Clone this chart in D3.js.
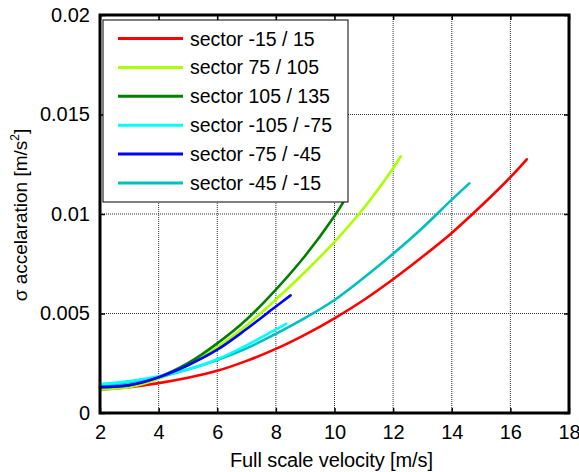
<!DOCTYPE html>
<html><head><meta charset="utf-8">
<script src="https://cdn.jsdelivr.net/npm/d3@7"></script>
<style>
html,body{margin:0;padding:0;background:#fff;}
svg{display:block;font-family:"Liberation Sans",Arial,sans-serif;}
</style></head>
<body><svg id="c" width="579" height="472"></svg>
<script>
const xTicks = [2,4,6,8,10,12,14,16,18];
const yTicks = [0,0.005,0.01,0.015,0.02];
const yTickLabels = ["0","0.005","0.01","0.015","0.02"];
const seriesNames = ["sector -15 / 15","sector 75 / 105","sector 105 / 135","sector -105 / -75","sector -75 / -45","sector -45 / -15"];
const seriesColors = ["#ff0000","#aaff00","#008000","#00ffff","#0000ff","#00bfbf"];
const sRed = [[2,0.00118],[3,0.0013],[4,0.0015],[5,0.00177],[6,0.00212],[7,0.00262],[8,0.00322],[9,0.00394],[10,0.00476],[11,0.00568],[12,0.00672],[13,0.00785],[14,0.00905],[15,0.0104],[16,0.01185],[16.56,0.01275]];
const sLime = [[2,0.0012],[3,0.0013],[4,0.00172],[5,0.0024],[6,0.0033],[7,0.0044],[8,0.0057],[9,0.0071],[10,0.0086],[11,0.0103],[12,0.0123],[12.26,0.0129]];
const sDkGreen = [[2,0.0013],[3,0.0014],[4,0.0018],[5,0.0025],[6,0.0035],[7,0.0047],[8,0.0062],[9,0.0079],[10,0.0099],[10.3,0.0106]];
const sCyan = [[2,0.00145],[3,0.0016],[4,0.00185],[5,0.0022],[6,0.0027],[7,0.0034],[8,0.0042],[8.35,0.00448]];
const sBlue = [[2,0.0013],[3,0.0014],[4,0.0018],[5,0.0024],[6,0.00318],[7,0.00422],[8,0.00535],[8.5,0.00591]];
const sTeal = [[2,0.0014],[3,0.00155],[4,0.0018],[5,0.00218],[6,0.00266],[7,0.00325],[8,0.00398],[9,0.00478],[10,0.00568],[11,0.0068],[12,0.008],[13,0.0093],[14,0.01072],[14.6,0.01154]];
const seriesData = [sRed,sLime,sDkGreen,sCyan,sBlue,sTeal];
const drawOrder = [0,1,2,5,3,4];

const svg = d3.select("#c");
const L=100,R=569,T=15,B=413;
const x = d3.scaleLinear().domain([2,18]).range([L,R]);
const y = d3.scaleLinear().domain([0,0.02]).range([B,T]);
const fs = 19;

// grid
const g = svg.append("g");
g.selectAll("line.gx").data(xTicks.slice(1,-1)).enter().append("line")
  .attr("x1",d=>x(d)).attr("x2",d=>x(d)).attr("y1",T).attr("y2",B)
  .attr("stroke","#333").attr("stroke-width",1).attr("stroke-dasharray","1,1");
g.selectAll("line.gy").data(yTicks.slice(1,-1)).enter().append("line")
  .attr("y1",d=>y(d)).attr("y2",d=>y(d)).attr("x1",L).attr("x2",R)
  .attr("stroke","#333").attr("stroke-width",1).attr("stroke-dasharray","1,1");

// lines
const line = d3.line().x(d=>x(d[0])).y(d=>y(d[1])).curve(d3.curveCatmullRom.alpha(0.5));
drawOrder.forEach(i=>{
  svg.append("path").attr("d",line(seriesData[i])).attr("fill","none")
    .attr("stroke",seriesColors[i]).attr("stroke-width",2.6).attr("stroke-linejoin","round").attr("stroke-linecap","round");
});

// axes
const ax = svg.append("g");
const xb = d3.axisBottom(x).tickValues(xTicks).tickSize(-5).tickPadding(12).tickFormat(d3.format("d"));
const xt = d3.axisTop(x).tickValues(xTicks).tickSize(-5).tickFormat("");
const yl = d3.axisLeft(y).tickValues(yTicks).tickSize(-5).tickPadding(10).tickFormat((d,i)=>yTickLabels[i]);
const yr = d3.axisRight(y).tickValues(yTicks).tickSize(-5).tickFormat("");
[[xb,`translate(0,${B})`],[xt,`translate(0,${T})`],[yl,`translate(${L},0)`],[yr,`translate(${R},0)`]].forEach(([a,t])=>{
  const gg = ax.append("g").attr("transform",t).call(a);
  gg.select(".domain").remove();
  gg.selectAll(".tick line").attr("stroke","#000").attr("stroke-width",1.5);
  gg.selectAll("text").attr("font-size",20).attr("fill","#000").attr("font-family","Liberation Sans, Arial, sans-serif");
});
ax.append("rect").attr("x",L).attr("y",T).attr("width",R-L).attr("height",B-T)
  .attr("fill","none").attr("stroke","#000").attr("stroke-width",3);

// axis labels
svg.append("text").attr("x",331.5).attr("y",467).attr("text-anchor","middle")
  .attr("font-size",20).attr("textLength",203).attr("lengthAdjust","spacing")
  .text("Full scale velocity [m/s]");
const yt = svg.append("text").attr("transform","translate(27,215) rotate(-90)")
  .attr("text-anchor","middle").attr("font-size",fs);
yt.append("tspan").text("σ accelaration [m/s");
yt.append("tspan").attr("font-size",12).attr("dy",-8).text("2");
yt.append("tspan").attr("dy",8).text("]");

// legend
const lg = svg.append("g");
lg.append("rect").attr("x",103).attr("y",20).attr("width",245).attr("height",182)
  .attr("fill","#fff").attr("stroke","#000").attr("stroke-width",1);
seriesNames.forEach((n,i)=>{
  const yy = 38.5 + i*28.9;
  lg.append("line").attr("x1",118).attr("x2",183).attr("y1",yy).attr("y2",yy)
    .attr("stroke",seriesColors[i]).attr("stroke-width",3);
  lg.append("text").attr("x",190).attr("y",yy+7).attr("font-size",19.5).text(n);
});
</script></body></html>
